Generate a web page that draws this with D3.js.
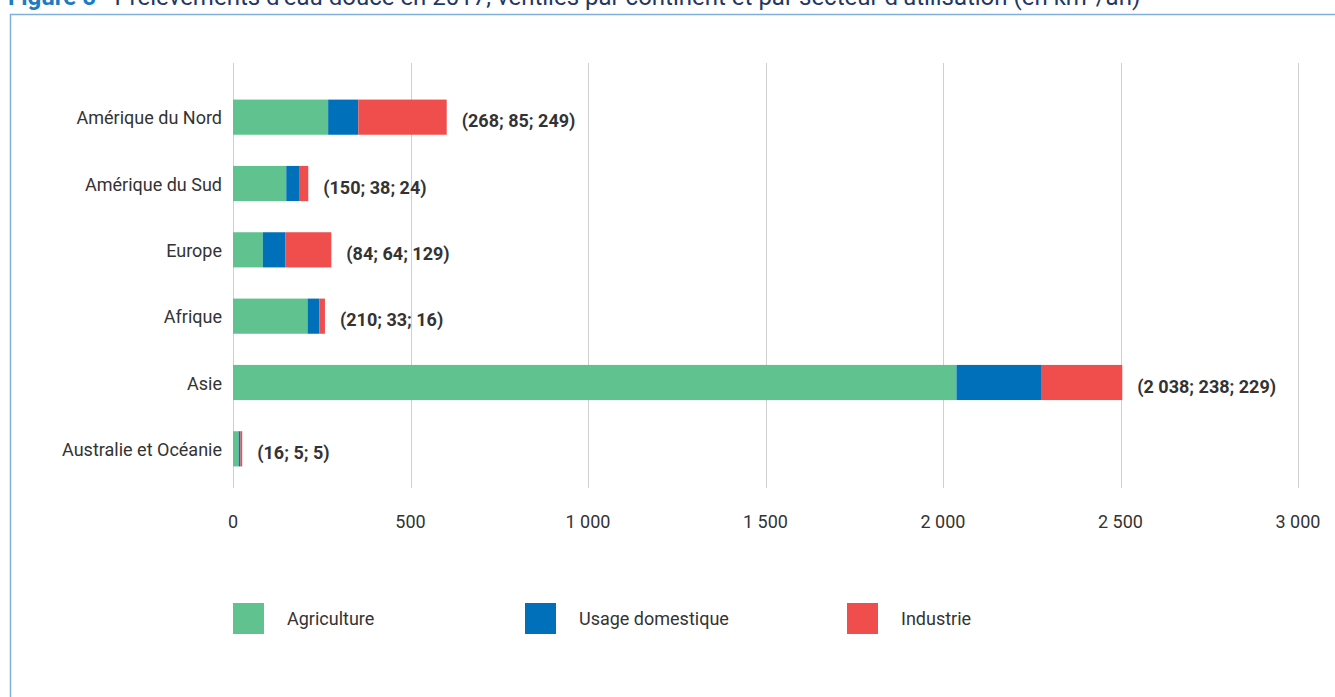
<!DOCTYPE html>
<html>
<head>
<meta charset="utf-8">
<script src="https://cdn.jsdelivr.net/npm/d3@7"></script>
<style>
  body { margin: 0; background: #fff; }
  svg { display: block; font-family: Roboto, "Noto Sans", sans-serif; }
</style>
</head>
<body>
<script>
// continents, top to bottom
var continents = ["Amérique du Nord", "Amérique du Sud", "Europe", "Afrique", "Asie", "Australie et Océanie"];
// km3 / an by sector
var agriculture = [268, 150, 84, 210, 2038, 16];
var domestique = [85, 38, 64, 33, 238, 5];
var industrie = [249, 24, 129, 16, 229, 5];
var sectors = ["Agriculture", "Usage domestique", "Industrie"];
var colors = ["#5fc28f", "#0070bb", "#f04d4d"];
var xTicks = [0, 500, 1000, 1500, 2000, 2500, 3000];

var width = 1335, height = 697;

var svg = d3.select("body").append("svg")
  .attr("width", width)
  .attr("height", height);

// title, cut off at the top like in the source
var title = svg.append("text")
  .attr("x", 8)
  .attr("y", 5)
  .style("font-size", "24px");
title.append("tspan").attr("fill", "#1a7cc1").attr("font-weight", "bold").text("Figure 5");
title.append("tspan").attr("fill", "#1f3864").text(" - Prélèvements d’eau douce en 2017, ventilés par continent et par secteur d’utilisation (en km³/an)");

// frame
svg.append("path")
  .attr("d", "M10.5,700 V14.5 H1340")
  .attr("fill", "none")
  .attr("stroke", "#7fb0dc")
  .attr("stroke-width", 1.5);

var x = d3.scaleLinear().domain([0, 3000]).range([233, 1298]);
var y = d3.scaleBand().domain(continents).range([84, 482]).paddingInner(0.47).paddingOuter(0.235);

// grid
svg.append("g").selectAll("line")
  .data(xTicks)
  .join("line")
  .attr("x1", function(d) { return Math.round(x(d)) + 0.5; })
  .attr("x2", function(d) { return Math.round(x(d)) + 0.5; })
  .attr("y1", 63)
  .attr("y2", 488)
  .attr("stroke", "#d0d0d0")
  .attr("stroke-width", 1);

// tick labels
var fmt = function(d) { return d3.format(",")(d).replace(/,/g, " "); };
svg.append("g").selectAll("text")
  .data(xTicks)
  .join("text")
  .attr("x", function(d) { return x(d); })
  .attr("y", 528)
  .attr("text-anchor", "middle")
  .attr("fill", "#333")
  .style("font-size", "18px")
  .text(fmt);

// stacked data
var rows = continents.map(function(c, i) {
  return { name: c, Agriculture: agriculture[i], "Usage domestique": domestique[i], Industrie: industrie[i] };
});
var stack = d3.stack().keys(sectors)(rows);

svg.append("g").selectAll("g")
  .data(stack)
  .join("g")
  .attr("fill", function(d, i) { return colors[i]; })
  .selectAll("rect")
  .data(function(d) { return d; })
  .join("rect")
  .attr("x", function(d) { return x(d[0]); })
  .attr("width", function(d) { return x(d[1]) - x(d[0]); })
  .attr("y", function(d) { return y(d.data.name); })
  .attr("height", y.bandwidth());

// category labels
svg.append("g").selectAll("text")
  .data(continents)
  .join("text")
  .attr("x", 222)
  .attr("y", function(d) { return y(d) + y.bandwidth() / 2 + 7; })
  .attr("text-anchor", "end")
  .attr("fill", "#333")
  .style("font-size", "18px")
  .text(function(d) { return d; });

// value labels
svg.append("g").selectAll("text")
  .data(rows)
  .join("text")
  .attr("x", function(d) { return x(d.Agriculture + d["Usage domestique"] + d.Industrie) + 15; })
  .attr("y", function(d) { return y(d.name) + y.bandwidth() / 2 + 10; })
  .attr("fill", "#333")
  .attr("font-weight", "bold")
  .style("font-size", "18px")
  .text(function(d) {
    return "(" + fmt(d.Agriculture) + "; " + fmt(d["Usage domestique"]) + "; " + fmt(d.Industrie) + ")";
  });

// legend
var legendX = [233, 525, 847];
var legend = svg.append("g").selectAll("g")
  .data(sectors)
  .join("g")
  .attr("transform", function(d, i) { return "translate(" + legendX[i] + ",603)"; });
legend.append("rect")
  .attr("width", 31)
  .attr("height", 31)
  .attr("fill", function(d, i) { return colors[i]; });
legend.append("text")
  .attr("x", 54)
  .attr("y", 22)
  .attr("fill", "#333")
  .style("font-size", "18px")
  .text(function(d) { return d; });
</script>
</body>
</html>
